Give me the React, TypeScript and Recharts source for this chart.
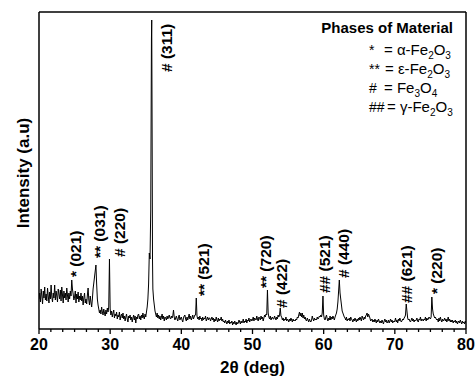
import { LineChart, Line, XAxis, YAxis, ReferenceLine, ReferenceDot } from 'recharts';

const FONT = '"Liberation Sans", Arial, sans-serif';

// step scan, 2θ = 20..80 in 0.1° steps (intensity in a.u.), one line per degree
const scanStart = 20;
const scanStep = 0.1;
const scanCounts = [
  30, 36, 27, 40, 33, 25, 38, 31, 42, 29,
  35, 28, 41, 33, 26, 37, 30, 44, 32, 27,
  36, 31, 44, 29, 38, 33, 27, 40, 35, 30,
  39, 28, 42, 34, 26, 38, 31, 36, 29, 41,
  34, 27, 36, 30, 38, 33, 49, 40, 35, 29,
  32, 38, 26, 35, 30, 37, 27, 33, 29, 36,
  28, 33, 24, 31, 36, 26, 30, 25, 34, 41,
  29, 24, 33, 27, 22, 30, 40, 46, 52, 58,
  64, 45, 30, 24, 20, 16, 19, 15, 22, 17,
  14, 20, 16, 13, 19, 15, 21, 17, 22, 70,
  20, 14, 18, 12, 16, 19, 11, 15, 13, 17,
  10, 14, 12, 17, 9, 13, 15, 11, 16, 10,
  13, 8, 12, 15, 10, 7, 13, 11, 14, 9,
  12, 7, 11, 14, 9, 13, 6, 12, 10, 14,
  15, 10, 13, 9, 14, 11, 16, 12, 10, 15,
  12, 17, 22, 30, 45, 76, 70, 118, 290, 190,
  40, 30, 24, 18, 15, 12, 16, 11, 14, 10,
  13, 9, 12, 15, 10, 13, 8, 12, 11, 9,
  13, 10, 12, 14, 11, 10, 13, 11, 13, 19,
  12, 9, 11, 13, 10, 8, 12, 14, 9, 11,
  12, 9, 7, 11, 13, 14, 10, 8, 12, 9,
  12, 15, 10, 13, 9, 11, 14, 10, 12, 14,
  14, 31, 13, 10, 12, 9, 13, 10, 11, 8,
  12, 9, 11, 10, 13, 8, 10, 12, 9, 11,
  11, 8, 10, 12, 9, 11, 7, 10, 8, 12,
  9, 7, 11, 8, 10, 9, 12, 8, 10, 7,
  8, 6, 9, 7, 5, 8, 6, 9, 5, 7,
  6, 8, 4, 7, 5, 8, 6, 4, 7, 5,
  6, 9, 7, 5, 8, 6, 7, 10, 6, 8,
  7, 10, 6, 9, 8, 11, 7, 9, 10, 8,
  9, 12, 8, 11, 10, 9, 13, 10, 8, 12,
  11, 9, 13, 10, 12, 8, 11, 14, 12, 15,
  14, 39, 16, 12, 10, 13, 9, 11, 12, 10,
  10, 13, 11, 9, 12, 10, 14, 12, 14, 21,
  13, 12, 9, 11, 8, 10, 9, 12, 8, 10,
  9, 7, 10, 8, 11, 9, 7, 10, 8, 9,
  8, 10, 9, 12, 11, 14, 17, 13, 16, 12,
  16, 11, 14, 10, 12, 9, 8, 11, 9, 7,
  10, 8, 7, 9, 13, 10, 8, 11, 9, 10,
  9, 12, 10, 11, 13, 12, 14, 12, 16, 33,
  14, 10, 9, 12, 14, 10, 8, 11, 9, 13,
  9, 12, 10, 13, 11, 9, 12, 14, 16, 20,
  27, 38, 49, 36, 30, 24, 18, 16, 14, 12,
  11, 9, 12, 8, 10, 9, 11, 8, 12, 10,
  9, 7, 10, 8, 11, 9, 7, 10, 8, 11,
  9, 12, 10, 8, 13, 11, 9, 12, 10, 13,
  14, 16, 12, 15, 13, 11, 8, 9, 10, 7,
  9, 7, 10, 8, 6, 9, 7, 10, 8, 6,
  8, 6, 9, 7, 5, 8, 10, 7, 9, 6,
  7, 9, 6, 8, 10, 7, 9, 6, 8, 7,
  8, 11, 7, 9, 6, 10, 8, 11, 9, 7,
  8, 10, 9, 11, 12, 14, 25, 18, 11, 9,
  10, 8, 7, 9, 11, 8, 10, 7, 9, 8,
  9, 11, 8, 7, 10, 9, 12, 8, 10, 9,
  8, 10, 9, 12, 8, 11, 9, 10, 12, 11,
  10, 12, 32, 20, 15, 13, 11, 12, 10, 9,
  10, 7, 11, 8, 12, 9, 7, 10, 8, 9,
  11, 8, 10, 7, 9, 12, 8, 10, 7, 9,
  7, 9, 6, 8, 7, 9, 6, 8, 5, 7,
  8, 6, 9, 7, 5, 8, 6, 7, 5, 8,
  6,
];

// extra points on the (311) reflection, between scan steps
const peakTheta = [35.84, 35.95];
const peakCounts = [309, 70];

// reflection labels: position of label (2θ) and height of its lower end
const labelTheta = [25.16, 28.57, 31.38, 37.94, 43.18, 51.76, 54.14, 60.05, 62.81, 71.67, 75.88];
const labelBase = [52, 71, 72, 257, 33, 41, 21, 36, 51, 26, 35];
const labelMark = ['*', '**', '#', '#', '**', '**', '#', '##', '#', '##', '*'];
const labelHkl = ['(021)', '(031)', '(220)', '(311)', '(521)', '(720)', '(422)', '(521)', '(440)', '(621)', '(220)'];

const xMajor = [20, 30, 40, 50, 60, 70, 80];
const minorPerMajor = 6;

const phaseMarks = ['*', '**', '#', '##'];
const phasePrefix = ['α-', 'ε-', '', 'γ-'];
const phaseFe = ['2', '2', '3', '2'];
const phaseO = ['3', '3', '4', '3'];
const eqX = [384, 385, 384, 387];

const data = [
  ...scanCounts.map((c, i) => ({ theta: +(scanStart + i * scanStep).toFixed(2), counts: c })),
  ...peakTheta.map((t, i) => ({ theta: t, counts: peakCounts[i] })),
].sort((a, b) => a.theta - b.theta);

const xTicks: number[] = [];
xMajor.forEach((v, i) => {
  xTicks.push(v);
  if (i < xMajor.length - 1) {
    for (let k = 1; k < minorPerMajor; k++) xTicks.push(v + (k * (xMajor[i + 1] - v)) / minorPerMajor);
  }
});

function XTick(props: any) {
  const { x, y, payload } = props;
  const v = payload.value;
  const major = xMajor.includes(v);
  return (
    <g>
      <line x1={x} x2={x} y1={y} y2={y + (major ? 5 : 3)} stroke="#000" strokeWidth={1.3} />
      {major && (
        <text x={x} y={y + 21} textAnchor="middle" fontFamily={FONT} fontWeight="bold" fontSize={16} fill="#000">
          {v}
        </text>
      )}
    </g>
  );
}

function PeakText({ viewBox, text }: any) {
  const x = viewBox.x;
  const y = viewBox.y;
  return (
    <text
      transform={`translate(${x},${y}) rotate(-90)`}
      textAnchor="start"
      dominantBaseline="central"
      fontFamily={FONT}
      fontWeight="bold"
      fontSize={15.5}
      fill="#000"
    >
      {text}
    </text>
  );
}

export default function App() {
  return (
    <div style={{ position: 'absolute', left: 0, top: 0, width: 476, height: 380, background: '#fff' }}>
      <LineChart width={476} height={380} data={data} margin={{ top: 12, right: 10, bottom: 0, left: 0 }}>
        <XAxis
          dataKey="theta"
          type="number"
          domain={[20, 80]}
          ticks={xTicks}
          interval={0}
          tickSize={0}
          tickMargin={0}
          tickLine={false}
          tick={(p: any) => <XTick {...p} />}
          axisLine={{ stroke: '#000', strokeWidth: 1.5 }}
          height={51}
          allowDataOverflow
        />
        <YAxis
          type="number"
          domain={[0, 317]}
          tick={false}
          tickLine={false}
          axisLine={{ stroke: '#000', strokeWidth: 1.5 }}
          width={39}
          allowDataOverflow
        />
        <ReferenceLine y={317} stroke="#000" strokeWidth={1.5} />
        <ReferenceLine x={80} stroke="#000" strokeWidth={1.5} />
        <Line type="linear" dataKey="counts" stroke="#000" strokeWidth={1} dot={false} isAnimationActive={false} />
        {labelTheta.map((t, i) => (
          <ReferenceDot
            key={i}
            x={t}
            y={labelBase[i]}
            r={0}
            fill="none"
            stroke="none"
            label={{ content: (p: any) => <PeakText {...p} text={`${labelMark[i]} ${labelHkl[i]}`} /> }}
          />
        ))}
      </LineChart>
      <svg width={476} height={380} style={{ position: 'absolute', left: 0, top: 0, pointerEvents: 'none' }} fontFamily={FONT}>
        <text transform="translate(23,173) rotate(-90)" textAnchor="middle" dominantBaseline="central" fontWeight="bold" fontSize={17}>
          Intensity (a.u)
        </text>
        <text x={252.5} y={373} textAnchor="middle" fontWeight="bold" fontSize={17}>
          2θ (deg)
        </text>
        <text x={453} y={33} textAnchor="end" fontWeight="bold" fontSize={15}>
          Phases of Material
        </text>
        {phaseMarks.map((m, i) => (
          <text key={m} x={369} y={55 + i * 19} fontSize={15}>
            <tspan fontSize={14}>{m}</tspan>
            <tspan x={eqX[i]}>= {phasePrefix[i]}Fe</tspan>
            <tspan dy={4} fontSize={10}>{phaseFe[i]}</tspan>
            <tspan dy={-4}>O</tspan>
            <tspan dy={4} fontSize={10}>{phaseO[i]}</tspan>
          </text>
        ))}
      </svg>
    </div>
  );
}
